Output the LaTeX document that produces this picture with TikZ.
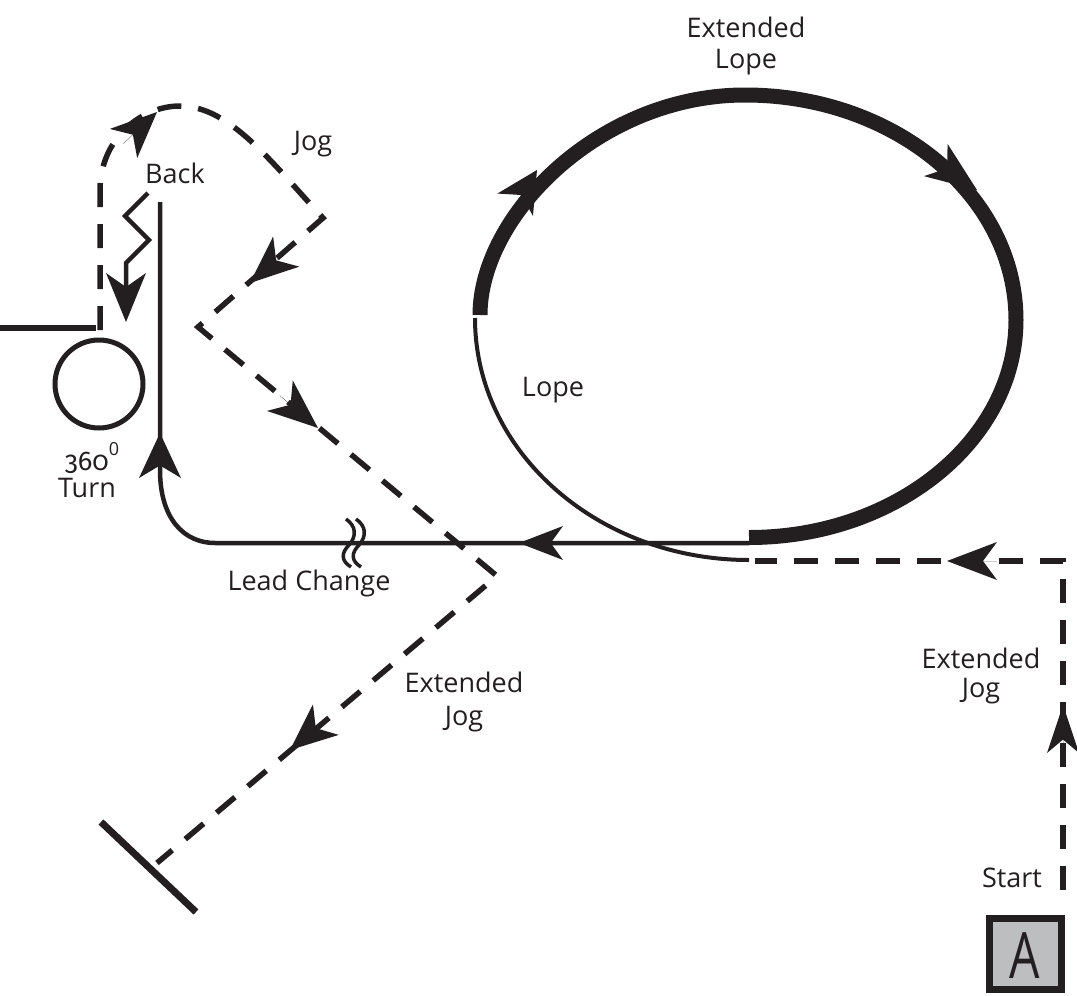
\documentclass[tikz,border=0pt]{standalone}
\usepackage{fontspec}
\setmainfont{Open Sans}
\newfontfamily\oldnum[Numbers=OldStyle]{Fira Sans}
\usetikzlibrary{arrows.meta}
\definecolor{ink}{HTML}{231F20}
\definecolor{boxgray}{HTML}{BCBEC0}
\begin{document}
\begin{tikzpicture}[x=1pt,y=-1pt,
  every node/.style={inner sep=0pt,outer sep=0pt},
  lbl/.style={text=ink,font=\fontsize{27}{31}\selectfont,anchor=base},
  solidln/.style={draw=ink,line width=4.5pt,line join=round},
  thinln/.style={draw=ink,line width=4pt},
  thickln/.style={draw=ink,line width=15pt},
  dashln/.style={draw=ink,line width=5.5pt,dash pattern=on 24pt off 17pt,line join=miter},
  ahd/.style n args={2}{draw=ink,fill=ink,line width=0.01pt,-{Stealth[length=#1,width=#2,inset=0.28*#1,line width=0pt]}}
]
\useasboundingbox (0,0) rectangle (1077,996);

% ---------- key points ----------
\coordinate (ls) at (749,537.5);
\coordinate (lr) at (1016,320);
\coordinate (lt) at (745,95);
\coordinate (ll) at (480,315);
\coordinate (tl) at (475,318);
\coordinate (tb) at (749,560);

\coordinate (h0) at (749,543);
\coordinate (h1) at (215,543);
\coordinate (v0) at (160,470);
\coordinate (v1) at (160,202);

\coordinate (j0) at (100,330);
\coordinate (j1) at (100,190);
\coordinate (jt) at (180,106);
\coordinate (j2) at (323,218);
\coordinate (j3) at (198,327);
\coordinate (j4) at (497,576);
\coordinate (j5) at (157,863);

\coordinate (s0) at (1063,890);
\coordinate (s1) at (1063,561);
\coordinate (s2) at (755,561);

% ---------- lope loop ----------
\draw[thickln] (ls) .. controls (896,537.5) and (1016,440) .. (lr)
  .. controls (1016,196) and (895,95) .. (lt)
  .. controls (599,95) and (480,216) .. (ll);
\draw[thinln] (tl) .. controls (475,452) and (598,560) .. (tb);
\draw[ahd={41pt}{42pt}] (515.2,204.7) -- (537,170);
\draw[ahd={51pt}{40pt}] (935.8,160) -- (977,190);

% ---------- main solid path ----------
\draw[solidln] (h0) -- (h1) .. controls (185,543) and (160,520) .. (v0) -- (v1);
\draw[ahd={44pt}{34pt}] (563,543) -- (519,543);
\draw[ahd={45pt}{42pt}] (160,478) -- (160,433);

% lead change mark
\foreach \dx in {0,10}{
  \draw[ink,line width=3.5pt] (346+\dx,519) .. controls (356+\dx,526) and (357+\dx,536) .. (349+\dx,545)
     .. controls (341+\dx,553) and (341+\dx,561) .. (351+\dx,567);
}

% ---------- 360 turn ----------
\draw[ink,line width=6pt] (0,328) -- (96,328);
\node[draw=ink,line width=5pt,circle,minimum size=88pt] (turn) at (99,384) {};

% back zigzag
\draw[solidln,line join=miter,-{Stealth[length=49pt,width=40pt,inset=14pt,line width=0pt]}]
  (148,193) -- (125,216) -- (149,240) -- (126,263) -- (126,322);

% ---------- jog dashed path ----------
\draw[dashln] (j0) -- (j1) .. controls (100,140) and (140,106) .. (jt)
  .. controls (230,106) and (272,163) .. (j2) -- (j3) -- (j4) -- (j5);
\draw[ahd={46pt}{40pt}] (123.5,143.5) -- (157,112);
\draw[ahd={48pt}{40pt}] (286.3,251.5) -- (250,283);
\draw[ahd={50pt}{40pt}] (279.9,395.7) -- (318,428);
\draw[ahd={47pt}{40pt}] (325.9,719.6) -- (290,750);

% end barrier
\draw[ink,line width=7pt] (101,822) -- (196,912);

% ---------- start dashed path ----------
\draw[dashln] (s0) -- (s1) -- (s2);
\draw[ahd={48pt}{32pt}] (1063,753) -- (1063,705);
\draw[ahd={50pt}{38pt}] (997,561) -- (947,561);

% start box
\draw[draw=ink,fill=boxgray,line width=7pt] (989.5,918.5) rectangle (1061.5,989.5);
\node[text=ink,anchor=base,font=\fontsize{64}{64}\selectfont,xscale=0.75] (A) at (1025,978) {A};

% ---------- labels ----------
\node[lbl] (extlope1) at (746,37) {Extended};
\node[lbl] (extlope2) at (746,68) {Lope};
\node[lbl] (jog1) at (313,150) {Jog};
\node[lbl] (back) at (175,183) {Back};
\node[lbl] (deg) at (92,470) {{\oldnum 360}{\fontsize{18}{18}\selectfont\raisebox{15pt}{0}}};
\node[lbl] (turnlbl) at (87,497) {Turn};
\node[lbl] (lope) at (553,396) {Lope};
\node[lbl] (lead) at (309,590) {Lead Change};
\node[lbl] (extjog1) at (464,692) {Extended};
\node[lbl] (extjog2) at (464,725) {Jog};
\node[lbl] (extjogr1) at (981,668) {Extended};
\node[lbl] (extjogr2) at (981,697) {Jog};
\node[lbl] (start) at (1012,887) {Start};
\end{tikzpicture}
\end{document}
